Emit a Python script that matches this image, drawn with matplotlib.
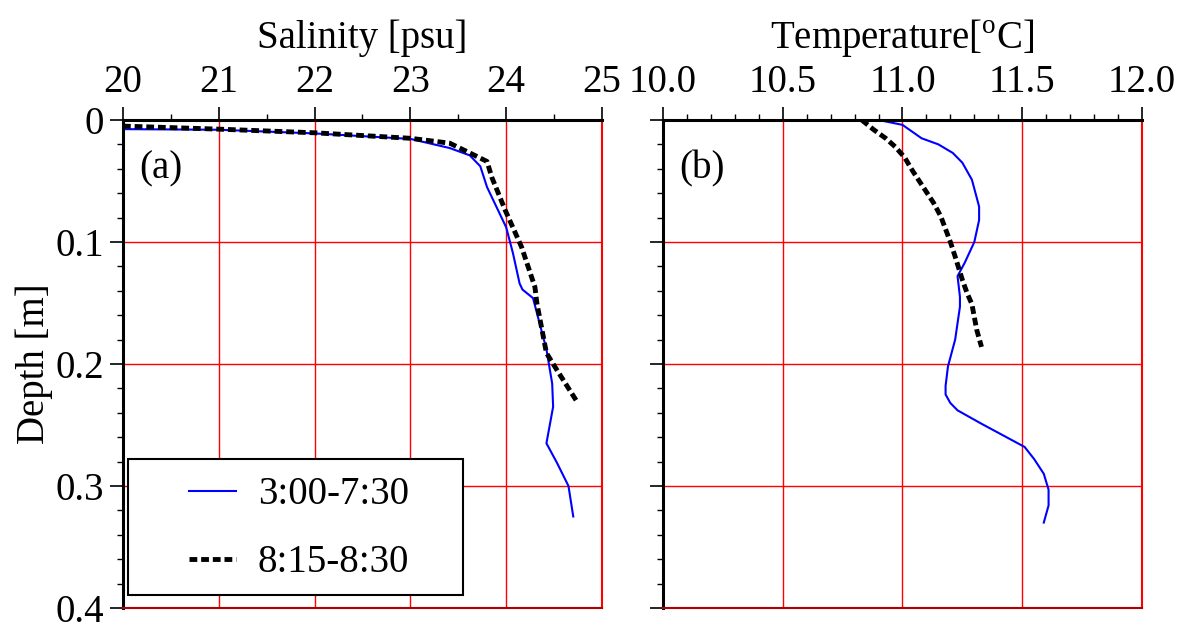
import matplotlib
matplotlib.use("Agg")
import matplotlib.pyplot as plt
from matplotlib.ticker import MultipleLocator
from matplotlib.patches import Rectangle

plt.rcParams["font.family"] = ["Liberation Serif", "DejaVu Serif"]
plt.rcParams["mathtext.fontset"] = "custom"
plt.rcParams["mathtext.rm"] = "Liberation Serif"

# salinity profiles (psu vs depth m)
sal_a = [20.0, 21.0, 22.0, 23.0, 23.41, 23.62, 23.73, 23.8, 24.0, 24.07, 24.14,
         24.17, 24.28, 24.42, 24.48, 24.49, 24.42, 24.53, 24.65, 24.7]
dep_sal_a = [0.0075, 0.008, 0.011, 0.0155, 0.023, 0.029, 0.038, 0.055, 0.088, 0.109, 0.134,
             0.139, 0.146, 0.188, 0.216, 0.235, 0.265, 0.281, 0.30, 0.325]
sal_b = [20.0, 21.0, 22.0, 23.0, 23.41, 23.62, 23.8, 23.85, 23.99, 24.16, 24.3,
         24.32, 24.42, 24.53, 24.74]
dep_sal_b = [0.005, 0.0075, 0.0105, 0.015, 0.019, 0.027, 0.034, 0.047, 0.074, 0.104, 0.137,
             0.15, 0.191, 0.205, 0.231]

# temperature profiles (degC vs depth m)
tem_a = [10.9, 11.0, 11.08, 11.15, 11.21, 11.25, 11.29, 11.32, 11.32, 11.3, 11.26, 11.23,
         11.24, 11.24, 11.22, 11.19, 11.18, 11.18, 11.2, 11.23, 11.33, 11.51, 11.55,
         11.59, 11.61, 11.61, 11.59]
dep_tem_a = [0.0, 0.004, 0.015, 0.02, 0.027, 0.035, 0.049, 0.071, 0.082, 0.10, 0.117, 0.128,
             0.145, 0.153, 0.18, 0.202, 0.218, 0.225, 0.232, 0.238, 0.249, 0.268, 0.278,
             0.29, 0.303, 0.316, 0.33]
tem_b = [10.83, 10.88, 10.93, 10.97, 11.01, 11.04, 11.07, 11.1, 11.13, 11.16, 11.2, 11.22,
         11.25, 11.27, 11.29, 11.31, 11.33]
dep_tem_b = [0.0, 0.008, 0.015, 0.022, 0.031, 0.041, 0.05, 0.059, 0.068, 0.079, 0.1, 0.112,
             0.131, 0.142, 0.151, 0.172, 0.186]

labels = ["3:00-7:30", "8:15-8:30"]
FS = 28

fig = plt.figure(figsize=(11.79, 6.23), dpi=100)
ax1 = fig.add_axes([0.1043, 0.0241, 0.4063, 0.7833])
ax2 = fig.add_axes([0.5623, 0.0241, 0.4063, 0.7833])


def style(ax, xmin, xmax, major, minor, xlabel):
    ax.set_xlim(xmin, xmax)
    ax.set_ylim(0.4, 0)
    ax.xaxis.set_major_locator(MultipleLocator(major))
    ax.xaxis.set_minor_locator(MultipleLocator(minor))
    ax.yaxis.set_major_locator(MultipleLocator(0.1))
    ax.yaxis.set_minor_locator(MultipleLocator(0.02))
    ax.xaxis.tick_top()
    ax.xaxis.set_label_position("top")
    ax.tick_params(axis="both", which="major", direction="out", length=9.5, width=1.2,
                   labelsize=FS, pad=4)
    ax.tick_params(axis="both", which="minor", direction="out", length=4.5, width=1.0)
    ax.tick_params(axis="x", which="both", bottom=False)
    ax.tick_params(axis="y", which="both", right=False)
    ax.grid(True, which="major", color="red", linewidth=1.0)
    ax.set_axisbelow(True)
    ax.spines["top"].set_linewidth(2.2)
    ax.spines["left"].set_linewidth(2.2)
    ax.spines["right"].set_color("red")
    ax.spines["bottom"].set_color("#b00000")
    ax.spines["right"].set_linewidth(1.5)
    ax.spines["bottom"].set_linewidth(1.5)
    ax.set_xlabel(xlabel, fontsize=FS, labelpad=12)


style(ax1, 20, 25, 1, 0.5, "Salinity [psu]")
ax1.set_xticks([20, 21, 22, 23, 24, 25])
ax1.set_xticklabels(["20", "21", "22", "23", "24", "25"])
ax1.set_yticks([0, 0.1, 0.2, 0.3, 0.4])
ax1.set_yticklabels(["0", "0.1", "0.2", "0.3", "0.4"])
ax1.set_ylabel("Depth [m]", fontsize=FS, labelpad=2)
ax1.plot(sal_a, dep_sal_a, color="blue", linewidth=1.5, label=labels[0])
ax1.plot(sal_b, dep_sal_b, color="black", linewidth=3.5, dashes=(1.6, 0.8), label=labels[1])
ax1.text(0.035, 0.90, "(a)", transform=ax1.transAxes, fontsize=FS, va="center")

# legend box drawn separately (wide side padding like the original)
ax1.add_patch(Rectangle((0.0104, 0.0266), 0.70, 0.278, transform=ax1.transAxes,
                        facecolor="white", edgecolor="black", linewidth=1.5, zorder=4))
leg = ax1.legend(loc="center", bbox_to_anchor=(0.368, 0.162), fontsize=FS, frameon=False,
                 handlelength=1.2, labelspacing=0.8, handletextpad=0.57, borderpad=0,
                 borderaxespad=0)
leg.set_zorder(5)

style(ax2, 10, 12, 0.5, 0.1, "Temperature[$^{\\rm o}$C]")
ax2.set_xticks([10.0, 10.5, 11.0, 11.5, 12.0])
ax2.set_xticklabels(["10.0", "10.5", "11.0", "11.5", "12.0"])
ax2.set_yticklabels([])
ax2.plot(tem_a, dep_tem_a, color="blue", linewidth=1.5)
ax2.plot(tem_b, dep_tem_b, color="black", linewidth=3.5, dashes=(1.6, 0.8))
ax2.text(0.035, 0.90, "(b)", transform=ax2.transAxes, fontsize=FS, va="center")

fig.savefig("out.png", dpi=100)
